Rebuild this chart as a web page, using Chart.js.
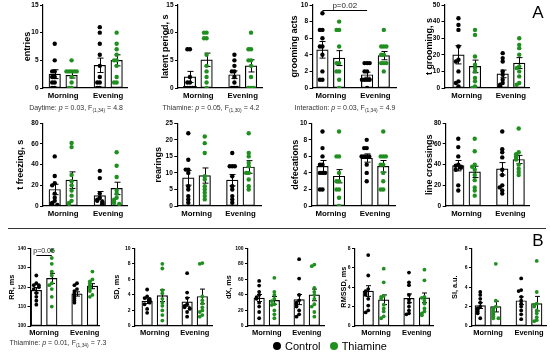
<!DOCTYPE html>
<html><head><meta charset="utf-8">
<script src="https://cdn.jsdelivr.net/npm/chart.js@4.4.0/dist/chart.umd.min.js"></script>
<style>
body{margin:0;width:550px;height:359px;position:relative;background:#fff;overflow:hidden;font-family:"Liberation Sans",Arial,sans-serif;}
.c{position:absolute;}
.t{position:absolute;white-space:nowrap;color:#333;transform:translate(-50%,-50%);}
.t sub{font-size:70%;vertical-align:-2px;line-height:0;}
.lbl{position:absolute;font-size:17px;color:#000;transform:translate(-50%,-50%);}
.dot{display:inline-block;width:8px;height:8px;border-radius:50%;vertical-align:-0px;margin-right:4px;}
</style></head><body>
<script>
// ---------- categories ----------
const groups = ['Morning', 'Evening'];
const series = ['Control', 'Thiamine'];

// ---------- data: [morning points, evening points]; means/sems: [ctrl M, thia M, ctrl E, thia E] ----------
const entriesCtrl = [[8,5,3,3,2,2,1,1,0,0],[11,10,8,6,4,2,1,1,0,0]];
const entriesThia = [[5,3,3,3,3,3,2,1,0,0],[10,8,7,6,5,5,4,2,1,1]];
const entriesMean = [2.5, 2.3, 4.1, 5.0];
const entriesSem  = [0.8, 0.5, 1.3, 1.0];

const latentCtrl = [[7,7,2,1,1,0,0,0,0,0],[6,5,4,3,3,2,1,0,0,0]];
const latentThia = [[10,10,9,9,6,4,3,2,1,0],[10,7,7,5,5,4,2,0,0,0]];
const latentMean = [2.0, 5.1, 2.4, 4.0];
const latentSem  = [1.0, 1.2, 0.7, 1.1];

const groomCtrl = [[9,7,7,6,5,5,4,2,1,1],[3,3,3,2,2,1,1,1,1,0]];
const groomThia = [[8,7,7,5,3,3,2,2,1,0],[7,5,5,5,4,4,3,3,3,2]];
const groomMean = [4.6, 3.6, 1.6, 3.9];
const groomSem  = [1.0, 0.9, 0.3, 0.5];

const tgroomCtrl = [[42,38,35,25,17,16,10,4,3,1],[21,18,16,10,8,5,3,2,1,0]];
const tgroomThia = [[35,32,19,14,12,10,6,4,1,0],[30,26,24,20,13,12,10,7,3,2]];
const tgroomMean = [20, 13, 8.5, 15];
const tgroomSem  = [5.5, 3.8, 2.3, 3.3];

const freezeCtrl = [[48,29,22,20,12,8,5,3,2,1],[34,27,12,8,6,5,4,3,2,1]];
const freezeThia = [[61,57,30,24,20,15,10,5,3,2],[52,39,28,15,12,8,6,4,3,2]];
const freezeMean = [16, 25, 10, 17];
const freezeSem  = [5, 8, 4, 6];

const rearCtrl = [[22,14,11,11,10,6,5,3,2,1],[16,12,12,12,9,6,5,3,2,1]];
const rearThia = [[21,19,16,9,8,6,5,4,3,2],[22,16,15,13,12,10,10,8,6,5]];
const rearMean = [8.5, 9.2, 7.8, 11.8];
const rearSem  = [2.2, 2.3, 1.7, 1.9];

const defCtrl = [[9,7,6,5,5,4,4,4,2,2],[8,7,7,6,6,6,6,5,4,3]];
const defThia = [[9,6,6,4,3,3,2,2,1,0],[9,6,6,6,5,5,4,3,2,2]];
const defMean = [4.8, 3.6, 5.8, 4.8];
const defSem  = [0.7, 0.8, 0.5, 0.7];

const lineCtrl = [[65,57,48,40,39,38,37,35,20,15],[72,55,52,47,35,30,20,18,15,12]];
const lineThia = [[65,53,40,38,35,30,25,18,15,10],[75,52,50,48,47,45,40,36,33,30]];
const lineMean = [39, 33, 36, 45];
const lineSem  = [5, 5.5, 6, 4];

const rrCtrl = [[126,122,121,121,120,119,117,115,113,111],[122,121,119,118,117,116,115,114,113,112]];
const rrThia = [[139,135,132,128,126,122,121,119,115,110],[128,124,123,122,121,120,119,118,116,115]];
const rrMean = [118.4, 124.5, 116.5, 120.5];
const rrSem  = [1.4, 2.6, 1.1, 1.3];

const sdCtrl = [[4.7,3.8,3.6,3.5,3.3,3.2,3.0,2.8,2.2,1.7],[6.8,4.3,3.6,2.8,2.6,2.4,2.3,2.2,1.8,1.2]];
const sdThia = [[8.0,7.4,4.6,4.2,3.5,3.0,2.6,2.0,1.4,0.7],[8.1,8.0,3.8,3.3,2.9,2.4,2.0,1.8,1.4,1.2]];
const sdMean = [3.2, 3.9, 3.1, 3.8];
const sdSem  = [0.3, 0.75, 0.55, 0.95];

const dxCtrl = [[58,52,44,40,37,35,30,25,18,10],[86,61,40,33,30,28,25,20,15,12]];
const dxThia = [[62,44,40,35,32,28,27,20,15,10],[79,77,49,44,40,35,28,25,18,12]];
const dxMean = [36, 33, 34, 40];
const dxSem  = [4.5, 5, 6.5, 7.5];

const rmCtrl = [[7.3,5.2,3.8,3.6,3.4,3.2,2.8,2.1,1.6,1.4],[5.5,4.5,4.2,3.2,2.7,2.4,2.0,1.6,1.3,1.2]];
const rmThia = [[5.9,4.5,3.1,3.0,2.8,2.2,1.8,1.5,1.0,0.8],[5.8,4.7,3.0,2.9,2.6,2.3,1.8,1.5,1.3,1.1]];
const rmMean = [3.6, 2.7, 2.85, 2.9];
const rmSem  = [0.55, 0.5, 0.45, 0.5];

const siCtrl = [[3.5,3.2,2.8,2.4,2.0,1.8,1.7,1.5,1.3,0.8],[4.9,3.7,3.6,3.0,2.6,2.3,2.0,1.6,1.2,0.7]];
const siThia = [[6.4,2.6,2.0,1.8,1.6,1.4,1.2,1.0,0.8,0.8],[6.7,3.5,2.3,2.2,2.0,1.6,1.3,0.9,0.6,0.5]];
const siMean = [2.1, 2.0, 2.6, 2.3];
const siSem  = [0.3, 0.55, 0.4, 0.75];

// ---------- styling ----------
const GREEN = '#1f8f1f';
const FONT = '"Liberation Sans", Arial, sans-serif';
Chart.defaults.font.family = FONT;
Chart.defaults.animation = false;

const ROW1 = {topY: 5, baseY: 88.3, tick: 6.5, titleSize: 9, xs: 7.8, xPad: 3.4, xH: 16, barW: 11.5, r: 2.2, cap: 3, off: 0.187};
const ROW2 = {topY: 123.3, baseY: 205.8, tick: 6.5, titleSize: 9, xs: 7.8, xPad: 3.4, xH: 16, barW: 11.5, r: 2.2, cap: 3, off: 0.187};
const ROW3 = {topY: 248.3, baseY: 325.7, tick: 5, titleSize: 7.3, xs: 7.5, xPad: 2.6, xH: 14, barW: 10.5, r: 1.9, cap: 2.5, off: 0.19};

const panels = [
  Object.assign({}, ROW1, {title:'entries', ctrl:entriesCtrl, thia:entriesThia, mean:entriesMean, sem:entriesSem, yMin:0, yMax:15, step:5, axisX:43, morningX:63.4, unit:45.6, rightX:128, titleX:27}),
  Object.assign({}, ROW1, {title:'latent period, s', ctrl:latentCtrl, thia:latentThia, mean:latentMean, sem:latentSem, yMin:0, yMax:15, step:5, axisX:178, morningX:198.5, unit:45, rightX:263, titleX:165}),
  Object.assign({}, ROW1, {title:'grooming acts', ctrl:groomCtrl, thia:groomThia, mean:groomMean, sem:groomSem, yMin:0, yMax:10, step:2, axisX:312.5, morningX:331, unit:45.2, rightX:397, titleX:294,
     bracket:{from:0, to:2, y:9.4, text:'p=0.02', size:8}}),
  Object.assign({}, ROW1, {title:'t grooming, s', ctrl:tgroomCtrl, thia:tgroomThia, mean:tgroomMean, sem:tgroomSem, yMin:0, yMax:50, step:10, axisX:444.5, morningX:467, unit:44.75, rightX:530, titleX:429}),
  Object.assign({}, ROW2, {title:'t freezing, s', ctrl:freezeCtrl, thia:freezeThia, mean:freezeMean, sem:freezeSem, yMin:0, yMax:80, step:20, axisX:43, morningX:63.4, unit:45.6, rightX:128, titleX:20}),
  Object.assign({}, ROW2, {title:'rearings', ctrl:rearCtrl, thia:rearThia, mean:rearMean, sem:rearSem, yMin:0, yMax:25, step:5, axisX:177.3, morningX:196.75, unit:44.5, rightX:262, titleX:158}),
  Object.assign({}, ROW2, {title:'defecations', ctrl:defCtrl, thia:defThia, mean:defMean, sem:defSem, yMin:0, yMax:10, step:2, axisX:311.7, morningX:331, unit:44.75, rightX:396, titleX:295}),
  Object.assign({}, ROW2, {title:'line crossings', ctrl:lineCtrl, thia:lineThia, mean:lineMean, sem:lineSem, yMin:0, yMax:80, step:20, axisX:445.7, morningX:466.75, unit:44.5, rightX:530, titleX:429}),
  Object.assign({}, ROW3, {title:'RR, ms', ctrl:rrCtrl, thia:rrThia, mean:rrMean, sem:rrSem, yMin:100, yMax:140, step:10, axisX:30.5, morningX:44.25, unit:41.25, rightX:100, titleX:12,
     bracket:{from:0, to:1, y:136.6, text:'p=0.05', size:7}}),
  Object.assign({}, ROW3, {title:'SD, ms', ctrl:sdCtrl, thia:sdThia, mean:sdMean, sem:sdSem, yMin:0, yMax:10, step:2, axisX:135, morningX:155, unit:40.5, rightX:213, titleX:117}),
  Object.assign({}, ROW3, {title:'dX, ms', ctrl:dxCtrl, thia:dxThia, mean:dxMean, sem:dxSem, yMin:0, yMax:100, step:20, axisX:248, morningX:267, unit:40.5, rightX:325, titleX:229}),
  Object.assign({}, ROW3, {title:'RMSSD, ms', ctrl:rmCtrl, thia:rmThia, mean:rmMean, sem:rmSem, yMin:0, yMax:8, step:2, axisX:355, morningX:376.25, unit:41.25, rightX:434, titleX:344}),
  Object.assign({}, ROW3, {title:'SI, a.u.', ctrl:siCtrl, thia:siThia, mean:siMean, sem:siSem, yMin:0, yMax:8, step:2, axisX:472, morningX:488.25, unit:41.5, rightX:547, titleX:455}),
];

// deterministic horizontal spread for overlapping points
function spread(vals, tol) {
  const used = [];
  const pattern = [0, -1, 1, -2, 2, -0.5, 0.5, -1.5, 1.5];
  return vals.map(v => {
    const k = used.filter(u => Math.abs(u - v) < tol).length;
    used.push(v);
    return pattern[k % pattern.length];
  });
}

function buildPanel(P) {
  const lh = P.titleSize * 1.2;
  const left = Math.round(P.titleX - lh / 2);
  const padTop = 8, padRight = 3;
  const top = Math.round(P.topY - padTop);
  const W = Math.round(P.rightX + padRight - left);
  const H = Math.round(P.baseY + P.xH - top);
  const yW = P.axisX - left;
  const realPadTop = P.topY - top;
  const div = document.createElement('div');
  div.className = 'c';
  div.style.left = left + 'px'; div.style.top = top + 'px';
  div.style.width = W + 'px'; div.style.height = H + 'px';
  const cv = document.createElement('canvas');
  cv.width = W; cv.height = H;
  div.appendChild(cv); document.body.appendChild(div);

  const xmin = -(P.morningX - P.axisX) / P.unit;
  const xmax = (P.rightX - P.morningX) / P.unit;
  const off = P.off;
  const centers = [-off, off, 1 - off, 1 + off];
  const tol = (P.yMax - P.yMin) * 0.035;
  const jx = 2.6 / P.unit;

  const pts = (arr, g, sign) => {
    const j = spread(arr[g], tol);
    const c = g + sign * off;
    return arr[g].map((v, i) => ({x: c + j[i] * jx, y: v}));
  };
  const ctrlPts = pts(P.ctrl, 0, -1).concat(pts(P.ctrl, 1, -1));
  const thiaPts = pts(P.thia, 0, 1).concat(pts(P.thia, 1, 1));

  const errPlugin = {
    id: 'err',
    afterDatasetDraw(chart, args) {
      if (args.meta.type !== 'bar') return;
      const ctx = chart.ctx, ys = chart.scales.y;
      ctx.save(); ctx.strokeStyle = '#000'; ctx.lineWidth = 1;
      args.meta.data.forEach((el, i) => {
        const x = Math.round(el.x) + 0.5;
        const y1 = ys.getPixelForValue(P.mean[i] + P.sem[i]);
        const y0 = ys.getPixelForValue(P.mean[i] - P.sem[i]);
        ctx.beginPath();
        ctx.moveTo(x, y0); ctx.lineTo(x, y1);
        ctx.moveTo(x - P.cap, y1); ctx.lineTo(x + P.cap, y1);
        ctx.moveTo(x - P.cap, y0); ctx.lineTo(x + P.cap, y0);
        ctx.stroke();
      });
      ctx.restore();
    },
    afterDraw(chart) {
      if (!P.bracket) return;
      const b = P.bracket, ctx = chart.ctx;
      const xs = chart.scales.x, ys = chart.scales.y;
      const xa = xs.getPixelForValue(centers[b.from]);
      const xb = xs.getPixelForValue(centers[b.to]);
      const yy = Math.round(ys.getPixelForValue(b.y)) + 0.5;
      ctx.save();
      ctx.strokeStyle = '#000'; ctx.lineWidth = 1;
      ctx.beginPath(); ctx.moveTo(xa, yy); ctx.lineTo(xb, yy); ctx.stroke();
      ctx.fillStyle = '#222';
      ctx.font = b.size + 'px ' + FONT;
      ctx.textAlign = 'center'; ctx.textBaseline = 'bottom';
      ctx.fillText(b.text, (xa + xb) / 2, yy - 0.5);
      ctx.restore();
    }
  };

  new Chart(cv, {
    type: 'scatter',
    data: {
      datasets: [
        {type: 'bar', label: 'mean', data: centers.map((c, i) => ({x: c, y: P.mean[i]})),
         backgroundColor: '#fff', borderColor: '#000', borderWidth: 1.2, borderSkipped: false,
         barThickness: P.barW, grouped: false, base: P.yMin, order: 3},
        {type: 'scatter', label: series[0], data: ctrlPts, backgroundColor: '#000', borderWidth: 0,
         pointRadius: P.r, order: 1},
        {type: 'scatter', label: series[1], data: thiaPts, backgroundColor: GREEN, borderWidth: 0,
         pointRadius: P.r, order: 0},
      ]
    },
    options: {
      responsive: false, maintainAspectRatio: false, animation: false,
      events: [],
      layout: {padding: {top: realPadTop, right: padRight, left: 0, bottom: 0}},
      plugins: {legend: {display: false}, tooltip: {enabled: false}},
      scales: {
        x: {
          type: 'linear', min: xmin, max: xmax, offset: false, bounds: 'data',
          afterBuildTicks: s => { s.ticks = [{value: 0}, {value: 1}]; },
          afterFit: s => { s.height = P.xH; },
          grid: {display: false, drawTicks: false, offset: false},
          border: {display: true, color: '#000', width: 1.2},
          ticks: {callback: (v, i) => groups[i], color: '#000', padding: P.xPad, maxRotation: 0, autoSkip: false,
                  font: {size: P.xs, weight: 'bold', family: FONT}}
        },
        y: {
          type: 'linear', min: P.yMin, max: P.yMax,
          afterFit: s => { s.width = yW; },
          grid: {display: true, drawOnChartArea: false, drawTicks: true, tickLength: 3, color: '#000', lineWidth: 1},
          border: {display: true, color: '#000', width: 1.2},
          ticks: {stepSize: P.step, color: '#000', padding: 1.5, font: {size: P.tick, weight: 'bold', family: FONT}},
          title: {display: true, text: P.title, color: '#000', padding: 0, font: {size: P.titleSize, weight: 'bold', family: FONT}}
        }
      }
    },
    plugins: [errPlugin]
  });
}

panels.forEach(buildPanel);
</script>

<div class="t" style="left:76px;top:107px;font-size:7px;">Daytime: <i>p</i> = 0.03, F<sub>(1,34)</sub> = 4.8</div>
<div class="t" style="left:211px;top:107px;font-size:7px;">Thiamine: <i>p</i> = 0.05, F<sub>(1,30)</sub> = 4.2</div>
<div class="t" style="left:345px;top:107px;font-size:7px;">Interaction: <i>p</i> = 0.03, F<sub>(1,34)</sub> = 4.9</div>
<div class="t" style="left:58px;top:342px;font-size:7px;">Thiamine: <i>p</i> = 0.01, F<sub>(1,34)</sub> = 7.3</div>

<div class="lbl" style="left:538px;top:13px;">A</div>
<div class="lbl" style="left:538px;top:241px;">B</div>
<div style="position:absolute;left:8px;top:228px;width:538px;height:1px;background:#333;"></div>

<div style="position:absolute;left:273px;top:340px;font-size:11px;color:#000;white-space:nowrap;">
<span class="dot" style="background:#000;"></span>Control&nbsp;&nbsp;&nbsp;<span class="dot" style="background:#1f8f1f;"></span>Thiamine
</div>
</body></html>
